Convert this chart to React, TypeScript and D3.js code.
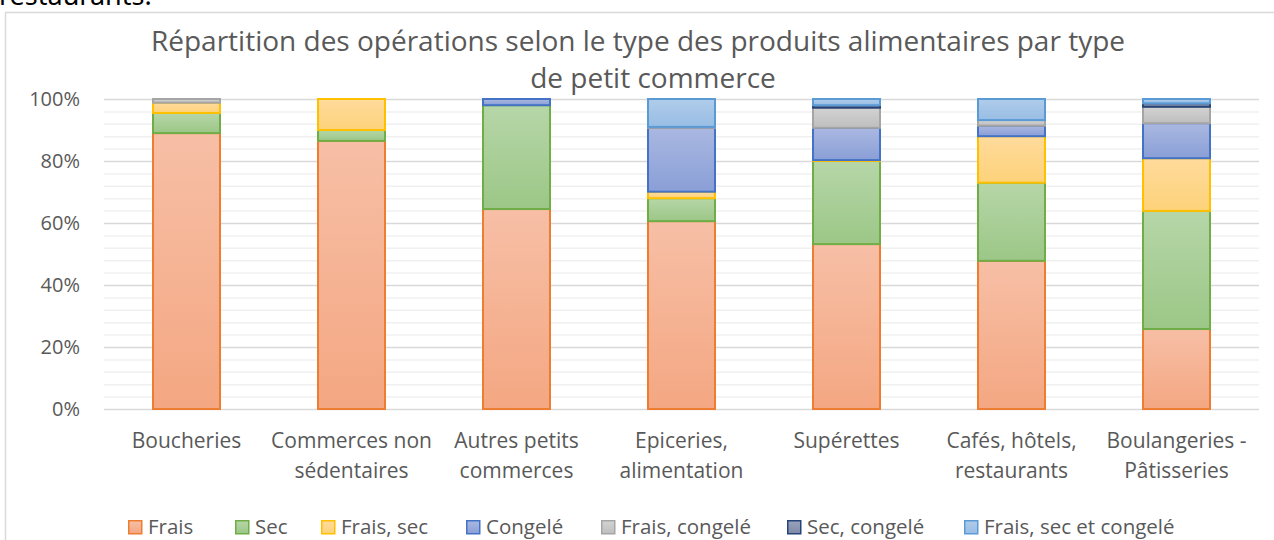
import React, { useEffect, useRef } from 'react';
import * as d3 from 'd3';

// categories (x axis), two lines each
const categories = [
  'Boucheries',
  'Commerces non sédentaires',
  'Autres petits commerces',
  'Epiceries, alimentation',
  'Supérettes',
  'Cafés, hôtels, restaurants',
  'Boulangeries - Pâtisseries',
];
const categoryLines = [
  ['Boucheries'],
  ['Commerces non', 'sédentaires'],
  ['Autres petits', 'commerces'],
  ['Epiceries,', 'alimentation'],
  ['Supérettes'],
  ['Cafés, hôtels,', 'restaurants'],
  ['Boulangeries -', 'Pâtisseries'],
];

const seriesNames = ['Frais', 'Sec', 'Frais, sec', 'Congelé', 'Frais, congelé', 'Sec, congelé', 'Frais, sec et congelé'];

// values in %, one array per series, in category order
const frais = [89, 86.5, 64.5, 60.6, 53.2, 47.8, 25.8];
const sec = [6.5, 3.5, 33.5, 7.4, 26.8, 25.2, 38.1];
const fraisSec = [3.3, 10, 0, 2.1, 0.3, 15, 17];
const congele = [0, 0, 2, 20.6, 10.4, 3.4, 11.3];
const fraisCongele = [1.2, 0, 0, 0.3, 6.5, 1.8, 5.3];
const secCongele = [0, 0, 0, 0, 0.8, 0, 1.1];
const fraisSecCongele = [0, 0, 0, 9, 2, 6.8, 1.4];

const yTicks = [0, 20, 40, 60, 80, 100];
const yMinorTicks = d3.range(0, 101, 4);

const borderColors = ['#ED7D31', '#70AD47', '#FFC000', '#4472C4', '#A5A5A5', '#264478', '#5B9BD5'];
const fillTop = ['#F7BFA6', '#B6D6A8', '#FFDB9C', '#AAB8E1', '#D3D3D3', '#98A2BC', '#B0CCEA'];
const fillBottom = ['#F4A782', '#9CC787', '#FDD27A', '#8A9FD7', '#BEBEBE', '#7F8AA8', '#98BDE4'];

const FONT = '"Open Sans", sans-serif';
const TEXT = '#595959';

export default function App() {
  const ref = useRef<SVGSVGElement>(null);

  useEffect(() => {
    const svg = d3.select(ref.current);
    svg.selectAll('*').remove();

    const margin = { left: 104, right: 1259, top: 99, bottom: 409 };

    const rows = categories.map((c, i) => ({
      cat: c,
      'Frais': frais[i],
      'Sec': sec[i],
      'Frais, sec': fraisSec[i],
      'Congelé': congele[i],
      'Frais, congelé': fraisCongele[i],
      'Sec, congelé': secCongele[i],
      'Frais, sec et congelé': fraisSecCongele[i],
    }));

    const x = d3.scaleBand().domain(categories).range([margin.left, margin.right])
      .paddingInner(0.594).paddingOuter(0.297);
    const y = d3.scaleLinear().domain([0, 100]).range([margin.bottom, margin.top]);

    // gradients
    const defs = svg.append('defs');
    seriesNames.forEach((s, i) => {
      const g = defs.append('linearGradient').attr('id', 'grad' + i)
        .attr('x1', 0).attr('y1', 0).attr('x2', 0).attr('y2', 1);
      g.append('stop').attr('offset', '0%').attr('stop-color', fillTop[i]);
      g.append('stop').attr('offset', '100%').attr('stop-color', fillBottom[i]);
    });

    // text from the page above the chart (cut off at the top, as in the source)
    svg.append('text').attr('x', -1).attr('y', 5)
      .style('font-family', '"Noto Sans", sans-serif').style('font-size', '27px').attr('fill', '#000')
      .text('restaurants.');

    // chart frame
    svg.append('rect').attr('x', 5.5).attr('y', 12.5).attr('width', 1300).attr('height', 600)
      .attr('fill', 'white').attr('stroke', '#D9D9D9').attr('stroke-width', 1.5);

    // title
    const title = svg.append('text').attr('text-anchor', 'middle')
      .style('font-family', FONT).style('font-size', '28px').attr('fill', TEXT);
    title.append('tspan').attr('x', 638).attr('y', 51)
      .text('Répartition des opérations selon le type des produits alimentaires par type');
    title.append('tspan').attr('x', 653).attr('y', 88).text('de petit commerce');

    // gridlines
    svg.append('g').selectAll('line').data(yMinorTicks.filter(t => t % 20 !== 0)).join('line')
      .attr('x1', margin.left).attr('x2', margin.right)
      .attr('y1', d => y(d) + 0.5).attr('y2', d => y(d) + 0.5)
      .attr('stroke', '#F0F0F0').attr('stroke-width', 1.5);
    svg.append('g').selectAll('line').data(yTicks).join('line')
      .attr('x1', margin.left).attr('x2', margin.right)
      .attr('y1', d => y(d) + 0.5).attr('y2', d => y(d) + 0.5)
      .attr('stroke', '#D9D9D9').attr('stroke-width', 1.5);

    // y tick labels
    svg.append('g').selectAll('text').data(yTicks).join('text')
      .attr('x', 80).attr('y', d => y(d)).attr('dy', '0.35em').attr('text-anchor', 'end')
      .style('font-family', FONT).style('font-size', '20px').attr('fill', TEXT)
      .text(d => d + '%');

    // stacked bars
    const stack = d3.stack<any>().keys(seriesNames);
    const layers = stack(rows as any);
    layers.forEach((layer, i) => {
      svg.append('g').selectAll('rect').data(layer.filter(d => d[1] - d[0] > 0)).join('rect')
        .attr('x', d => x(d.data.cat)!)
        .attr('width', x.bandwidth())
        .attr('y', d => y(d[1]))
        .attr('height', d => y(d[0]) - y(d[1]))
        .attr('fill', `url(#grad${i})`)
        .attr('stroke', borderColors[i]).attr('stroke-width', 2);
    });

    // x labels
    const xl = svg.append('g');
    categories.forEach((c, i) => {
      const t = xl.append('text').attr('text-anchor', 'middle')
        .style('font-family', FONT).style('font-size', '21px').attr('fill', TEXT);
      categoryLines[i].forEach((line, j) => {
        t.append('tspan').attr('x', x(c)! + x.bandwidth() / 2).attr('y', 448 + j * 30).text(line);
      });
    });

    // legend
    const legendX = [128, 235, 321, 466, 601, 787, 964];
    const lg = svg.append('g');
    seriesNames.forEach((s, i) => {
      const g = lg.append('g').attr('transform', `translate(${legendX[i]},527)`);
      g.append('rect').attr('x', 0.75).attr('y', -6.25).attr('width', 13).attr('height', 13)
        .attr('fill', `url(#grad${i})`).attr('stroke', borderColors[i]).attr('stroke-width', 1.5);
      g.append('text').attr('x', 20).attr('y', 0).attr('dy', '0.35em')
        .style('font-family', FONT).style('font-size', '20.5px').attr('fill', TEXT)
        .text(s);
    });
  }, []);

  return <svg ref={ref} width={1274} height={540} style={{ position: 'absolute', left: 0, top: 0 }} />;
}
